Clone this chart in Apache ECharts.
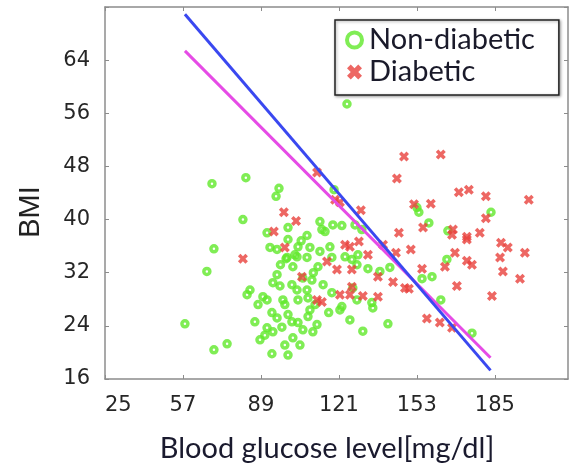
<!DOCTYPE html>
<html><head><meta charset="utf-8">
<script src="https://cdn.jsdelivr.net/npm/echarts@6/dist/echarts.min.js"></script>
<style>html,body{margin:0;padding:0;background:#fff}#c{width:570px;height:467px}</style>
</head><body><div id="c"></div>
<script>
const xTicks = [25, 57, 89, 121, 153, 185];
const yTicks = [16, 24, 32, 40, 48, 56, 64];
const xTitle = 'Blood glucose level[mg/dl]';
const yTitle = 'BMI';
const legendNames = ['Non-diabetic', 'Diabetic'];

const nonDiabetic = [
  [68.9,45.4],[82.8,46.3],[96.4,44.7],[95.2,43.5],[81.6,40.0],[91.5,38.0],[100.1,38.8],[69.7,35.6],
  [66.8,32.2],[57.8,24.3],[69.7,20.4],[75.1,21.3],[93.5,19.8],[95.6,31.7],[93.9,30.5],[84.5,29.4],
  [83.3,28.7],[89.8,28.4],[91.5,27.9],[93.5,26.0],[95.6,25.2],[91.5,23.7],[90.6,22.6],[93.9,23.1],
  [97.6,23.8],[92.7,35.8],[95.6,35.5],[99.3,34.1],[100.1,19.6],[99.7,34.3],[103.8,34.4],[107.9,34.3],
  [112.4,32.9],[102.1,32.9],[101.7,30.2],[103.8,29.4],[107.9,29.4],[109.9,30.9],[106.2,31.2],[104.2,27.9],
  [108.3,28.2],[111.2,27.2],[109.1,26.4],[100.1,25.7],[101.7,24.6],[104.2,24.5],[106.2,23.4],[110.3,23.1],
  [112.0,24.2],[108.3,25.4],[102.1,22.2],[118.1,29.0],[122.2,26.9],[121.4,26.4],[125.5,24.9],[123.5,34.4],
  [118.1,34.3],[126.3,34.0],[119.0,44.5],[113.2,39.7],[114.0,38.5],[118.5,39.2],[122.2,39.1],[115.3,38.2],
  [107.9,37.6],[100.1,37.0],[104.2,35.9],[109.1,35.8],[113.2,35.2],[117.3,35.9],[102.9,34.7],[124.3,57.4],
  [153.0,41.8],[153.8,41.1],[157.9,39.5],[183.4,41.1],[127.6,39.2],[130.4,38.5],[128.8,34.7],[165.7,38.3],
  [165.3,34.0],[175.6,22.9],[128.4,33.2],[132.9,32.6],[137.8,32.2],[141.9,32.8],[155.1,31.1],[159.2,31.4],
  [162.8,27.9],[126.7,29.7],[128.4,27.9],[134.5,27.5],[134.9,26.7],[130.8,23.2],[141.1,24.3],[87.8,27.2],
  [98.8,21.1],[98.0,27.9],[86.5,24.6],[88.6,21.9],[105.0,21.1],[98.8,27.2],[96.8,30.0],[110.5,32.0],
  [105.5,36.8],[97.0,33.2],[114.5,30.2],[116.8,26.0]
];

const diabetic = [
  [98.4,41.1],[94.3,38.2],[81.6,34.1],[112.0,47.1],[119.4,43.0],[121.4,42.6],[103.4,39.8],[98.8,35.8],
  [123.5,36.2],[125.5,35.9],[105.8,31.4],[116.1,33.7],[120.2,32.5],[126.3,32.5],[114.0,27.6],[112.0,27.9],
  [121.4,28.7],[125.5,28.7],[126.3,29.9],[147.7,49.5],[162.8,49.8],[144.8,46.2],[170.2,44.1],[174.3,44.5],
  [181.3,43.5],[198.9,43.0],[151.8,42.3],[158.7,42.4],[130.0,41.4],[145.6,38.0],[155.5,38.8],[167.8,38.5],
  [178.8,38.0],[181.3,40.2],[173.5,37.4],[167.4,37.7],[129.2,36.7],[139.1,36.2],[150.5,35.5],[144.4,35.0],
  [132.9,34.7],[173.5,37.0],[187.5,36.5],[190.3,35.8],[197.3,35.0],[168.6,35.0],[173.5,33.8],[175.6,33.2],
  [187.1,34.3],[188.3,32.2],[195.3,31.1],[169.4,30.0],[183.8,28.5],[167.4,23.7],[137.0,31.4],[143.2,30.6],
  [148.1,29.7],[149.7,29.6],[155.1,32.6],[164.5,32.9],[130.8,28.5],[137.0,28.4],[157.1,25.1],[162.4,24.5]
];

const fitBlue = [[57.8,70.9],[183.2,17.3]];
const fitMagenta = [[57.8,65.4],[183.2,19.2]];

const GREEN = '#60e82a';
const RED = '#e8413c';
const XPATH = 'path://M2.5,0L5,2.5L7.5,0L10,2.5L7.5,5L10,7.5L7.5,10L5,7.5L2.5,10L0,7.5L2.5,5L0,2.5Z';
const AXIS = '#8c8c8c';

const chart = echarts.init(document.getElementById('c'), null, {renderer: 'canvas'});
const tickFont = {fontFamily: 'DejaVu Sans', fontSize: 21, color: '#262626'};

chart.setOption({
  animation: false,
  backgroundColor: '#fff',
  grid: {left: 105, right: 2, top: 7, bottom: 88, outerBoundsMode: 'none'},
  xAxis: [{
    type: 'value', min: 25, max: 215, position: 'bottom',
    axisLine: {show: true, lineStyle: {color: AXIS, width: 1.5}},
    axisTick: {show: true, inside: true, length: 4, customValues: xTicks, lineStyle: {color: AXIS}},
    axisLabel: Object.assign({customValues: xTicks, margin: 16, alignMinLabel: 'left'}, tickFont),
    splitLine: {show: false}
  }, {
    type: 'value', min: 25, max: 215, position: 'top',
    axisLine: {show: true, lineStyle: {color: AXIS, width: 1.5}},
    axisTick: {show: true, inside: true, length: 4, customValues: xTicks, lineStyle: {color: AXIS}},
    axisLabel: {show: false}, splitLine: {show: false}
  }],
  yAxis: [{
    type: 'value', min: 16, max: 72, interval: 8, position: 'left',
    axisLine: {show: true, lineStyle: {color: AXIS, width: 1.5}},
    axisTick: {show: true, inside: true, length: 4, lineStyle: {color: AXIS}},
    axisLabel: Object.assign({margin: 15, formatter: v => yTicks.includes(v) ? String(v) : ''}, tickFont),
    splitLine: {show: false}
  }, {
    type: 'value', min: 16, max: 72, interval: 8, position: 'right',
    axisLine: {show: true, lineStyle: {color: AXIS, width: 1.5}},
    axisTick: {show: true, inside: true, length: 4, lineStyle: {color: AXIS}},
    axisLabel: {show: false}, splitLine: {show: false}
  }],
  legend: {
    left: 335, top: 20, orient: 'vertical',
    padding: [5, 24, 8, 10], itemGap: 2, itemWidth: 15, itemHeight: 15,
    borderColor: '#222', borderWidth: 1.5, backgroundColor: '#fff',
    shadowBlur: 3, shadowColor: 'rgba(0,0,0,0.35)', shadowOffsetX: 1, shadowOffsetY: 1,
    textStyle: {fontFamily: 'Lato', fontSize: 29, color: '#1a1a2a', lineHeight: 30, padding: [0, 0, 0, 2]},
    data: [
      {name: legendNames[0], icon: 'circle', itemStyle: {color: '#fff', borderColor: GREEN, borderWidth: 4}},
      {name: legendNames[1], icon: XPATH, itemStyle: {color: RED, borderWidth: 0}}
    ]
  },
  graphic: [
    {type: 'text', x: 327, y: 449, style: {text: xTitle, font: '29px Lato', fill: '#1a1a2e', align: 'center', verticalAlign: 'middle'}},
    {type: 'text', x: 31, y: 212, rotation: Math.PI / 2, style: {text: yTitle, font: '29px "Liberation Sans"', fill: '#222', align: 'center', verticalAlign: 'middle'}}
  ],
  series: [
    {name: legendNames[0], type: 'scatter', data: nonDiabetic, symbol: 'circle', symbolSize: 6,
     itemStyle: {color: 'rgba(255,255,255,0)', borderColor: GREEN, borderWidth: 3.5}, z: 3},
    {name: legendNames[1], type: 'scatter', data: diabetic, symbol: XPATH, symbolSize: 10,
     itemStyle: {color: RED}, z: 4},
    {name: 'fit2', type: 'line', data: fitMagenta, symbol: 'none', lineStyle: {color: '#e64be6', width: 3}, z: 5},
    {name: 'fit1', type: 'line', data: fitBlue, symbol: 'none', lineStyle: {color: '#3a48f0', width: 3}, z: 6}
  ]
});
</script></body></html>
